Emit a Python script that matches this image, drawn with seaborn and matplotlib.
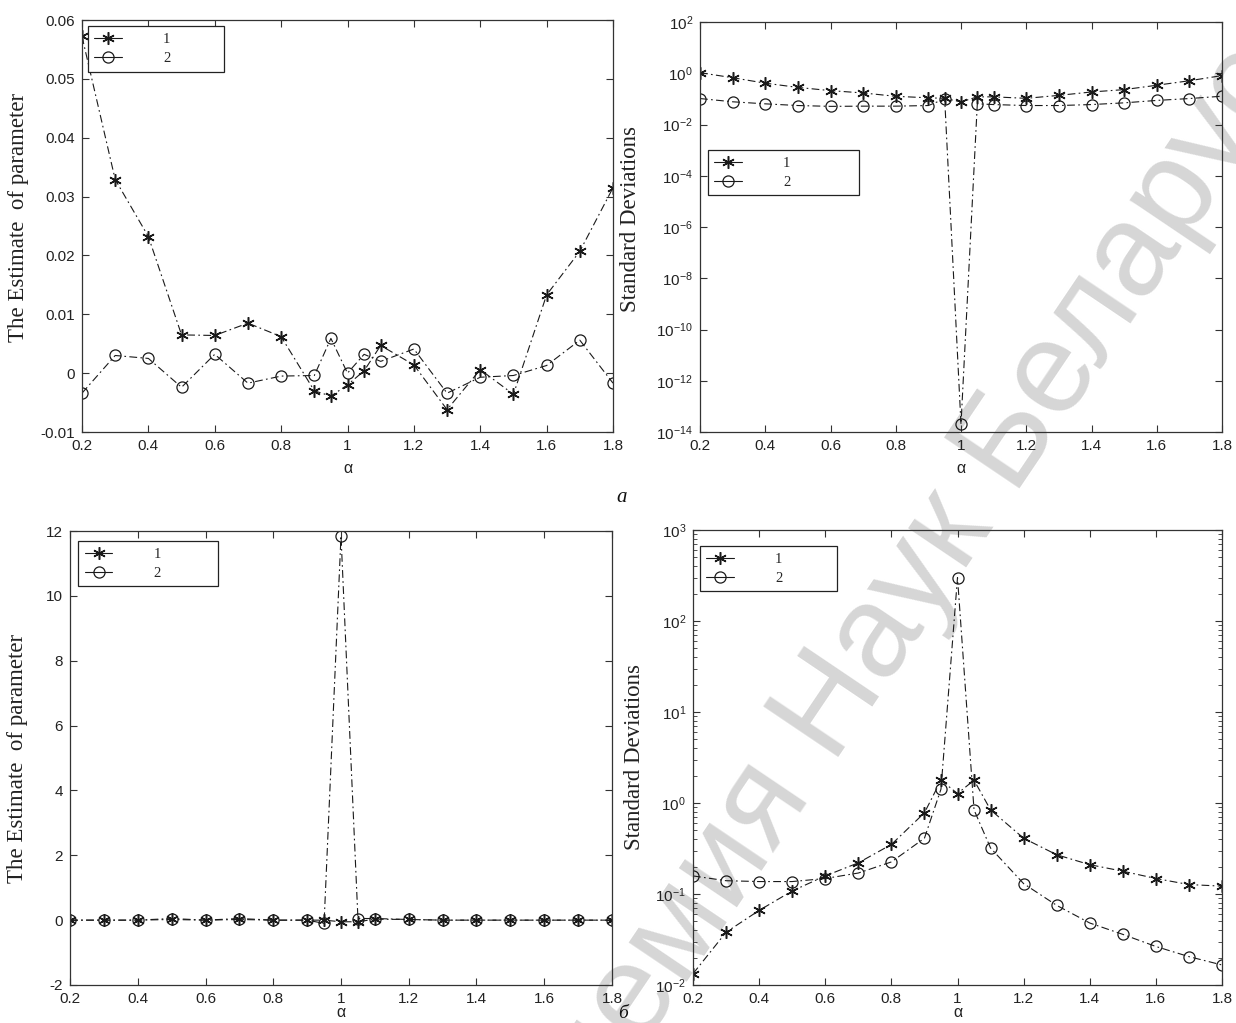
import numpy as np
import matplotlib
matplotlib.use("Agg")
import matplotlib.pyplot as plt
import seaborn as sns
from matplotlib.lines import Line2D
from matplotlib.legend_handler import HandlerLine2D
from matplotlib.ticker import FixedLocator, NullLocator, LogLocator, FuncFormatter

# alpha grid (denser near alpha = 1)
alpha = [0.2, 0.3, 0.4, 0.5, 0.6, 0.7, 0.8, 0.9, 0.95, 1.0, 1.05,
         1.1, 1.2, 1.3, 1.4, 1.5, 1.6, 1.7, 1.8]

# (a) estimates of the parameter
est_a_1 = [0.0572, 0.0329, 0.0232, 0.0065, 0.0064, 0.0085, 0.0062, -0.0030,
           -0.0039, -0.0020, 0.0004, 0.0047, 0.0014, -0.0062, 0.0006,
           -0.0036, 0.0133, 0.0207, 0.0315]
est_a_2 = [-0.0034, 0.0030, 0.0025, -0.0024, 0.0032, -0.0017, -0.0005,
           -0.0004, 0.0059, 0.0000, 0.0032, 0.0020, 0.0041, -0.0034,
           -0.0007, -0.0004, 0.0013, 0.0056, -0.0017]

# (a) standard deviations
sd_a_1 = [1.05, 0.67, 0.41, 0.28, 0.21, 0.17, 0.126, 0.11, 0.105, 0.076,
          0.12, 0.12, 0.105, 0.137, 0.186, 0.23, 0.34, 0.51, 0.81]
sd_a_2 = [0.103, 0.077, 0.064, 0.055, 0.051, 0.052, 0.052, 0.055, 0.10,
          2e-14, 0.064, 0.060, 0.055, 0.055, 0.060, 0.070, 0.087, 0.103, 0.127]

# (б) estimates of the parameter
est_b_1 = [0.0, 0.0, 0.0, 0.02, 0.0, 0.02, 0.0, 0.0, 0.0, -0.05,
           -0.05, 0.03, 0.02, 0.0, 0.0, 0.0, 0.0, 0.0, 0.0]
est_b_2 = [0.0, 0.0, 0.0, 0.05, 0.0, 0.05, 0.0, 0.0, -0.1, 11.85,
           0.05, 0.05, 0.02, 0.0, 0.0, 0.0, 0.0, 0.0, 0.0]

# (б) standard deviations
sd_b_1 = [0.0133, 0.038, 0.066, 0.108, 0.158, 0.22, 0.35, 0.78, 1.78, 1.27,
          1.78, 0.84, 0.41, 0.27, 0.21, 0.178, 0.148, 0.127, 0.122]
sd_b_2 = [0.158, 0.14, 0.137, 0.137, 0.148, 0.17, 0.225, 0.41, 1.42, 300.0,
          0.84, 0.32, 0.13, 0.075, 0.048, 0.036, 0.0265, 0.0205, 0.0166]

series_labels = ["1", "2"]
x_ticks = [0.2, 0.4, 0.6, 0.8, 1.0, 1.2, 1.4, 1.6, 1.8]

sns.set_theme(style="ticks")
plt.rcParams["font.family"] = ["Liberation Sans", "DejaVu Sans"]
plt.rcParams["axes.linewidth"] = 0.9

W, H = 1236, 1023
fig = plt.figure(figsize=(W / 100, H / 100), dpi=100, facecolor="white")


def frac(left, top, right, bottom):
    return [left / W, 1 - bottom / H, (right - left) / W, (bottom - top) / H]


ax_tl = fig.add_axes(frac(82, 20, 613, 432))
ax_tr = fig.add_axes(frac(700, 22, 1222, 432))
ax_bl = fig.add_axes(frac(70, 531, 612, 985))
ax_br = fig.add_axes(frac(693, 530, 1222, 985))

STAR = (6, 2, 0)
DASHDOT = (0, (7, 3, 1.5, 3))
INK = "#1a1a1a"


class MarkerAtEnd(HandlerLine2D):
    """Legend key: short line with the marker near its right end."""

    def get_xdata(self, legend, xdescent, ydescent, width, height, fontsize):
        xdata = np.array([-xdescent, -xdescent + width])
        return xdata, np.array([-xdescent + 0.78 * width])


def draw_pair(ax, y1, y2):
    sns.lineplot(x=alpha, y=y1, ax=ax, sort=False, errorbar=None, color=INK,
                 linewidth=0.8, linestyle=DASHDOT, marker=STAR, markersize=9,
                 markeredgewidth=1.1, markeredgecolor=INK)
    sns.lineplot(x=alpha, y=y2, ax=ax, sort=False, errorbar=None, color=INK,
                 linewidth=0.8, linestyle=DASHDOT, marker="o", markersize=8,
                 markerfacecolor="none", markeredgewidth=0.9, markeredgecolor=INK)


def style_axes(ax):
    ax.set_facecolor("none")
    for s in ax.spines.values():
        s.set_visible(True)
        s.set_color("#333333")
    ax.tick_params(which="major", direction="in", top=True, right=True,
                   length=5, width=0.8, labelsize=11, colors="#333333",
                   labelcolor="#222222", pad=5)
    ax.tick_params(which="minor", direction="in", top=True, right=True,
                   length=3, width=0.6, colors="#333333")
    ax.set_xlim(0.2, 1.8)
    ax.xaxis.set_major_locator(FixedLocator(x_ticks))
    ax.xaxis.set_minor_locator(NullLocator())
    ax.xaxis.set_major_formatter(FuncFormatter(lambda v, p: f"{round(v, 2):g}"))
    ax.set_xlabel("α", fontsize=11.5, color="#222222")


def add_legend(ax, x0, top, width):
    handles = [
        Line2D([0], [0], color=INK, lw=0.8, marker=STAR, markersize=9,
               markeredgewidth=1.1),
        Line2D([0], [0], color=INK, lw=0.8, marker="o", markersize=8,
               markerfacecolor="none", markeredgewidth=0.9),
    ]
    leg = ax.legend(handles, series_labels, loc="upper left",
                    bbox_to_anchor=(x0, top, width, 0), mode="expand",
                    borderaxespad=0, frameon=True, fancybox=False,
                    edgecolor="#222222", framealpha=1, handlelength=1.9,
                    handletextpad=2.8, borderpad=0.45, labelspacing=0.4,
                    handler_map={Line2D: MarkerAtEnd()},
                    prop={"family": "Liberation Serif", "size": 10.5})
    leg.get_frame().set_linewidth(0.9)
    leg.set_zorder(5)


serif_label = {"family": "Liberation Serif", "size": 16.5, "color": "#222222"}

# ---- top left: parameter estimates (a)
draw_pair(ax_tl, est_a_1, est_a_2)
style_axes(ax_tl)
ax_tl.set_ylim(-0.01, 0.06)
ax_tl.yaxis.set_major_locator(FixedLocator(np.round(np.arange(-0.01, 0.061, 0.01), 2)))
ax_tl.yaxis.set_major_formatter(FuncFormatter(lambda v, p: f"{round(v, 3):g}"))
ax_tl.set_ylabel("The Estimate  of parameter", **serif_label)
ax_tl.yaxis.set_label_coords(-0.10, 0.52)
ax_tl.xaxis.set_label_coords(0.5, -0.07)
add_legend(ax_tl, 0.011, 0.985, 0.256)

# ---- top right: standard deviations (a)
draw_pair(ax_tr, sd_a_1, sd_a_2)
style_axes(ax_tr)
ax_tr.set_yscale("log")
ax_tr.set_ylim(1e-14, 1e2)
ax_tr.yaxis.set_major_locator(FixedLocator([10.0 ** k for k in range(-14, 3, 2)]))
ax_tr.yaxis.set_minor_locator(NullLocator())
ax_tr.set_ylabel("Standard Deviations", **serif_label)
ax_tr.yaxis.set_label_coords(-0.113, 0.52)
ax_tr.xaxis.set_label_coords(0.5, -0.07)
add_legend(ax_tr, 0.015, 0.688, 0.29)

# ---- bottom left: parameter estimates (б)
draw_pair(ax_bl, est_b_1, est_b_2)
style_axes(ax_bl)
ax_bl.set_ylim(-2, 12)
ax_bl.yaxis.set_major_locator(FixedLocator(list(range(-2, 13, 2))))
ax_bl.yaxis.set_major_formatter(FuncFormatter(lambda v, p: f"{v:g}"))
ax_bl.set_ylabel("The Estimate  of parameter", **serif_label)
ax_bl.yaxis.set_label_coords(-0.078, 0.5)
ax_bl.xaxis.set_label_coords(0.5, -0.045)
add_legend(ax_bl, 0.015, 0.978, 0.258)

# ---- bottom right: standard deviations (б)
draw_pair(ax_br, sd_b_1, sd_b_2)
style_axes(ax_br)
ax_br.set_yscale("log")
ax_br.set_ylim(1e-2, 1e3)
ax_br.yaxis.set_major_locator(FixedLocator([10.0 ** k for k in range(-2, 4)]))
ax_br.yaxis.set_minor_locator(LogLocator(base=10, subs=np.arange(2, 10)))
ax_br.set_ylabel("Standard Deviations", **serif_label)
ax_br.yaxis.set_label_coords(-0.09, 0.5)
ax_br.xaxis.set_label_coords(0.5, -0.045)
add_legend(ax_br, 0.013, 0.965, 0.26)

# panel captions
fig.text(622 / W, 1 - 497 / H, "a", family="Liberation Serif", style="italic",
         fontsize=15, ha="center", va="center", color="#111111")
fig.text(623 / W, 1 - 1013 / H, "б", family="Liberation Serif", style="italic",
         fontsize=14, ha="center", va="center", color="#111111")

# background watermark
fig.text(878 / W, 1 - 638 / H, "Академия Наук Беларуси", family="Liberation Sans",
         fontsize=94, color="#d6d6d6", rotation=56, rotation_mode="anchor",
         ha="center", va="center", zorder=-1)

fig.savefig("out.png", dpi=100, facecolor="white")
